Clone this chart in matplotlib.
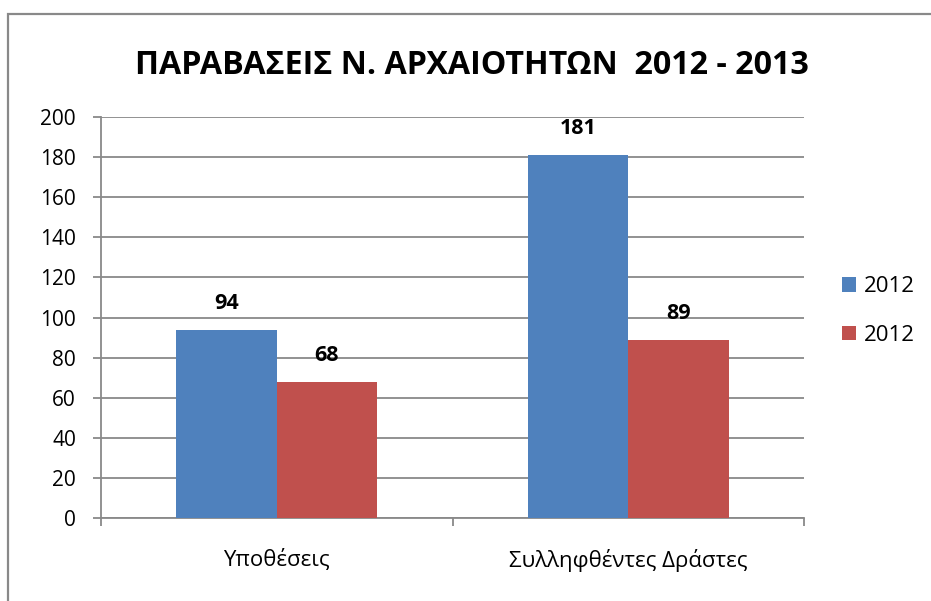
import matplotlib.pyplot as plt
import numpy as np
from matplotlib.patches import Rectangle

plt.rcParams["font.family"] = ["Open Sans", "DejaVu Sans"]

categories = ["Υποθέσεις", "Συλληφθέντες Δράστες"]
series_names = ["2012", "2012"]
values_a = [94, 181]
values_b = [68, 89]
colors = ["#4F81BD", "#C0504D"]
title = "ΠΑΡΑΒΑΣΕΙΣ Ν. ΑΡΧΑΙΟΤΗΤΩΝ  2012 - 2013"

W, H = 931, 601
GRAY = "#898989"
fig = plt.figure(figsize=(W / 100, H / 100), dpi=100)

# outer chart frame (right and bottom edges lie outside the picture)
fig.patches.append(Rectangle((8 / W, -0.05), 1.1, 1 - 14 / H + 0.05,
                             transform=fig.transFigure, fill=False,
                             edgecolor=GRAY, linewidth=1.6))

ax = fig.add_axes([101 / W, 1 - 518 / H, 703 / W, 401 / H])

x = np.arange(len(categories))
bw = 1 / 3.5
bars_a = ax.bar(x - bw / 2, values_a, bw, color=colors[0], label=series_names[0], zorder=3)
bars_b = ax.bar(x + bw / 2, values_b, bw, color=colors[1], label=series_names[1], zorder=3)

for bars in (bars_a, bars_b):
    for b in bars:
        ax.annotate(str(int(b.get_height())), (b.get_x() + b.get_width() / 2, b.get_height()),
                    xytext=(0, 19), textcoords="offset points", ha="center", va="center",
                    fontsize=15.5, fontweight="bold")

ax.set_xlim(-0.5, len(categories) - 0.5)
ax.set_ylim(0, 200)
ax.set_yticks(range(0, 201, 20))
ax.yaxis.grid(True, color=GRAY, linewidth=1.3, zorder=0)
ax.set_axisbelow(True)

ax.set_xticks(x)
ax.set_xticklabels(categories, fontsize=16)
ax.tick_params(axis="x", length=0, pad=22)
ax.set_xticks([-0.5, 0.5, 1.5], minor=True)
ax.tick_params(axis="x", which="minor", length=6, color=GRAY, width=1.3)
ax.tick_params(axis="y", length=6, color=GRAY, width=1.3, labelsize=15, pad=12)

for s in ("top", "right"):
    ax.spines[s].set_visible(False)
for s in ("left", "bottom"):
    ax.spines[s].set_color(GRAY)
    ax.spines[s].set_linewidth(1.3)

fig.text(472 / W, 1 - 66 / H, title, ha="center", va="center",
         fontsize=23.2, fontweight="bold")

ax.legend(loc="center left", bbox_to_anchor=(822 / W, 1 - 311 / H),
          bbox_transform=fig.transFigure, frameon=False, fontsize=16,
          handlelength=0.65, handleheight=0.65, handletextpad=0.35, labelspacing=1.25)

fig.savefig("out.png", dpi=100)
